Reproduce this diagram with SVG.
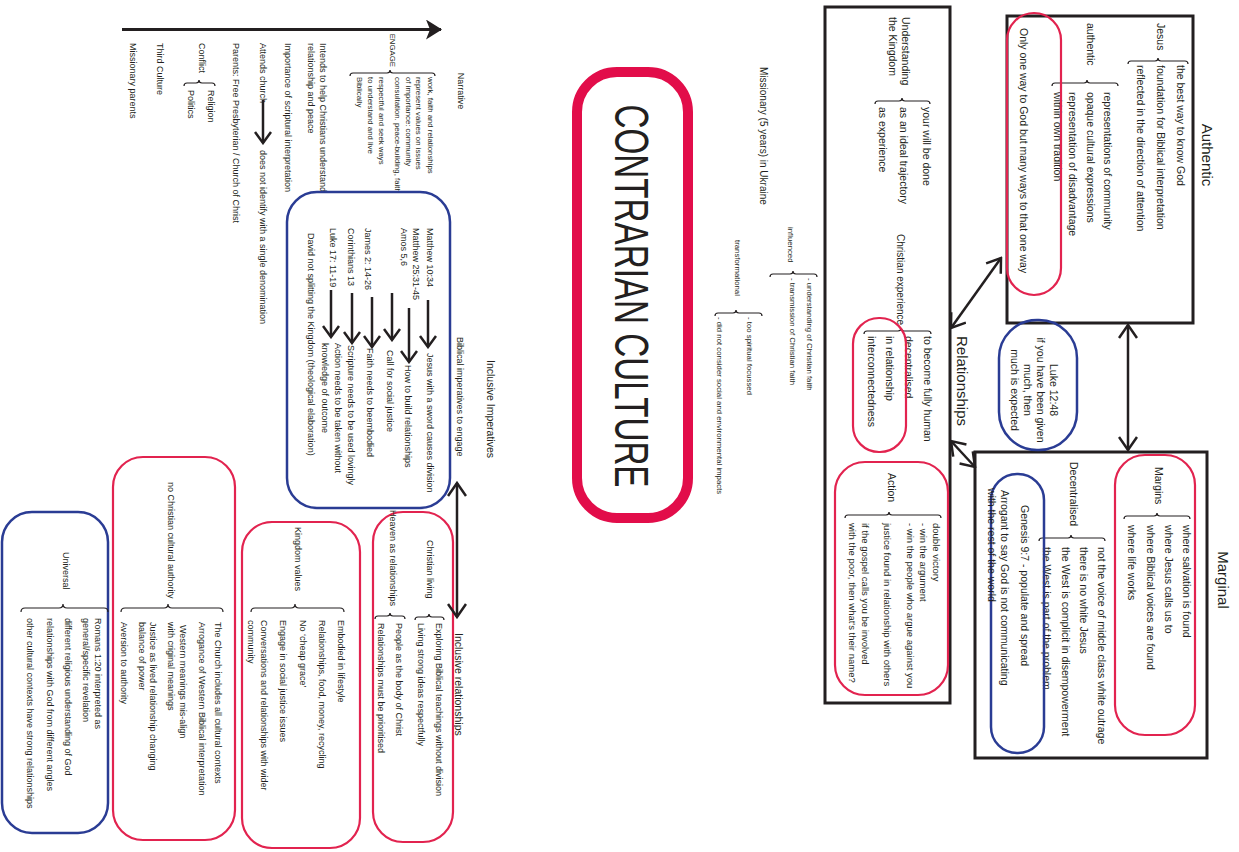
<svg xmlns="http://www.w3.org/2000/svg" width="1239" height="852" viewBox="0 0 1239 852">
<style>
text{font-family:"Liberation Sans",Arial,sans-serif;fill:#231f20}
.t{font-size:10.5px}
.a{font-size:10px}
.c{font-size:9.5px}
.s{font-size:9px}
.e{font-size:7.8px}
.xs{font-size:7.8px}
.h{font-size:15px}
.m{text-anchor:middle}
.end{text-anchor:end}
.box{fill:none;stroke:#231f20;stroke-width:3}
.red{fill:none;stroke:#e2234f;stroke-width:2.2}
.blue{fill:none;stroke:#2a3c94;stroke-width:2.5}
.br{fill:none;stroke:#231f20;stroke-width:1.2}
.ar{fill:none;stroke:#231f20;stroke-width:2.5}
</style>
<defs>
<marker id="ah" viewBox="0 0 16 20" refX="14" refY="10" markerWidth="16" markerHeight="20" markerUnits="userSpaceOnUse" orient="auto-start-reverse"><path d="M1,1 L14,10 L1,19" fill="none" stroke="#231f20" stroke-width="2.5"/></marker>
<marker id="as" viewBox="0 0 14 18" refX="12" refY="9" markerWidth="14" markerHeight="18" markerUnits="userSpaceOnUse" orient="auto-start-reverse"><path d="M1,1 L12,9 L1,17" fill="none" stroke="#231f20" stroke-width="2.5"/></marker>
<marker id="af" viewBox="0 0 16 20" refX="15" refY="10" markerWidth="16" markerHeight="20" markerUnits="userSpaceOnUse" orient="auto"><path d="M0,0 L16,10 L0,20 L4,10 z" fill="#231f20"/></marker>
</defs>
<rect x="0" y="0" width="1239" height="852" fill="#ffffff"/>
<g transform="translate(1239,0) rotate(90)">

<g id="authentic">
<text class="h m" x="155" y="37">Authentic</text>
<rect class="box" x="16" y="46" width="307" height="186"/>
<text class="t" x="23" y="82">Jesus</text>
<path class="br" d="M64,51 Q61,51 61,54 L61,78 Q61,81 58,81 Q61,81 61,84 L61,108 Q61,111 64,111"/>
<text class="t" x="65" y="62">the best way to know God</text>
<text class="t" x="65" y="82">foundation for Biblical interpretation</text>
<text class="t" x="65" y="102">reflected in the direction of attention</text>
<text class="t" x="23" y="152">authentic</text>
<path class="br" d="M86,121 Q83,121 83,124 L83,149 Q83,152 80,152 Q83,152 83,155 L83,184 Q83,187 86,187"/>
<text class="t" x="92" y="135">representations of community</text>
<text class="t" x="92" y="152">opaque cultural expressions</text>
<text class="t" x="92" y="170">representation of disadvantage</text>
<text class="t" x="92" y="185">within own tradition</text>
<rect class="red" x="13" y="178" width="282" height="54" rx="27"/>
<text class="t" x="28" y="219">Only one way to God but many ways to that one way</text>
</g>

<g id="marginal">
<text class="h m" x="580" y="21">Marginal</text>
<rect class="box" x="452" y="32" width="306" height="232"/>
<rect class="red" x="455" y="44" width="280" height="80" rx="30"/>
<text class="t" x="467" y="84">Margins</text>
<path class="br" d="M519,49 Q516,49 516,52 L516,79 Q516,82 513,82 Q516,82 516,85 L516,112 Q516,115 519,115"/>
<text class="t" x="525" y="56">where salvation is found</text>
<text class="t" x="525" y="74">where Jesus calls us to</text>
<text class="t" x="525" y="92">where Biblical voices are found</text>
<text class="t" x="525" y="111">where life works</text>
<text class="t" x="462" y="169">Decentralised</text>
<path class="br" d="M541,134 Q538,134 538,137 L538,165 Q538,168 535,168 Q538,168 538,171 L538,197 Q538,200 541,200"/>
<text class="t" x="547" y="141">not the voice of midcle class white outrage</text>
<text class="t" x="547" y="159">there is no white Jesus</text>
<text class="t" x="547" y="177">the West is complicit in disempowerment</text>
<text class="t" x="547" y="196">the West is part of the problem</text>
<rect class="blue" x="474" y="195" width="279" height="53" rx="26"/>
<text class="t" x="505" y="218">Genesis 9:7 - populate and spread</text>
<text class="t" x="490" y="238">Arrogant to say God is not communicating</text>
<text class="t" x="488" y="251">with the rest of the world</text>
</g>

<g id="luke">
<rect class="blue" x="320" y="162" width="130" height="78" rx="38"/>
<text class="t m" x="390" y="189">Luke 12:48</text>
<text class="t m" x="390" y="202">if you have been given</text>
<text class="t m" x="390" y="215">much, then</text>
<text class="t m" x="390" y="228">much is expected</text>
</g>

<g id="relationships">
<text class="h m" x="381" y="282">Relationships</text>
<rect class="box" x="7" y="289" width="696" height="125"/>
<text class="t" x="17" y="337">Understanding</text>
<text class="t" x="17" y="350">the Kingdom</text>
<path class="br" d="M104,309 Q101,309 101,312 L101,334 Q101,337 98,337 Q101,337 101,340 L101,361 Q101,364 104,364"/>
<text class="t" x="107" y="316">your will be done</text>
<text class="t" x="107" y="339">as an ideal trajectory</text>
<text class="t" x="107" y="360">as experience</text>
<text class="a" x="234" y="342">Christian experience</text>
<path class="br" d="M334,308 Q331,308 331,311 L331,335 Q331,338 328,338 Q331,338 331,341 L331,372 Q331,375 334,375"/>
<text class="t" x="336" y="315">to become fully human</text>
<text class="t" x="336" y="334">decentralised</text>
<text class="t" x="336" y="353">in relationship</text>
<text class="t" x="336" y="371">interconnectedness</text>
<rect class="red" x="318" y="333" width="134" height="53" rx="26"/>
<rect class="red" x="462" y="291" width="233" height="113" rx="30"/>
<text class="t" x="473" y="351">Action</text>
<path class="br" d="M518,298 Q515,298 515,301 L515,347 Q515,350 512,350 Q515,350 515,353 L515,391 Q515,394 518,394"/>
<text class="c" x="523" y="306">double victory</text>
<text class="c" x="523" y="319">- win the argument</text>
<text class="c" x="523" y="332">- win the people who argue against you</text>
<text class="c" x="523" y="355">justice found in relationship with others</text>
<text class="c" x="523" y="377">if the gospel calls you be involved</text>
<text class="c" x="523" y="390">with the poor, then what's their name?</text>
</g>

<g id="title">
<rect x="72" y="551" width="446" height="111" rx="40" fill="none" stroke="#e20d4a" stroke-width="10"/>
<text x="296" y="624" font-size="49" class="m" textLength="383" lengthAdjust="spacingAndGlyphs">CONTRARIAN CULTURE</text>
</g>

<g id="missionary">
<text class="a" x="67" y="479">Missionary (5 years) in Ukraine</text>
<text class="xs" x="227" y="451">influenced</text>
<path class="br" d="M277,422 Q274,422 274,425 L274,443 Q274,446 271,446 Q274,446 274,449 L274,466 Q274,469 277,469"/>
<text class="xs" x="278" y="432">- understanding of Christian faith</text>
<text class="xs" x="278" y="449">- transmission of Christian faith</text>
<text class="xs" x="240" y="504">transformational</text>
<path class="br" d="M316,477 Q313,477 313,480 L313,500 Q313,503 310,503 Q313,503 313,506 L313,521 Q313,524 316,524"/>
<text class="xs" x="317" y="492">- too spiritual focussed</text>
<text class="xs" x="317" y="522">- did not consider social and environmental impacts</text>
</g>

<g id="narrative">
<text class="s m" x="91" y="781">Narrative</text>
<text class="e end" x="67" y="849">ENGAGE</text>
<path class="br" d="M76,804 Q73,804 73,807 L73,846 Q73,849 70,849 Q73,849 73,852 L73,886 Q73,889 76,889"/>
<text class="e" x="77" y="811">work, faith and relationships</text>
<text class="e" x="77" y="823">represent values on issues</text>
<text class="e" x="77" y="833">of importance: community</text>
<text class="e" x="77" y="844">consultation. peace-building, faith</text>
<text class="e" x="77" y="860">respectful and seek ways</text>
<text class="e" x="77" y="871">to understand and live</text>
<text class="e" x="77" y="882">Biblically</text>
<text class="s" x="43" y="919">Intends to help Christians understand</text>
<text class="s" x="43" y="931">relationship and peace</text>
<text class="s" x="43" y="954">Importance of scriptural interpretation</text>
<text class="s" x="43" y="979">Attends church</text>
<text class="s" x="150" y="979">does not identify with a single denomination</text>
<text class="s" x="43" y="1006">Parents: Free Presbyterian / Church of Christ</text>
<text class="s" x="43" y="1040">Conflict</text>
<path class="br" d="M86,1024 Q83,1024 83,1027 L83,1037 Q83,1040 80,1040 Q83,1040 83,1043 L83,1052 Q83,1055 86,1055"/>
<text class="s" x="90" y="1031">Religion</text>
<text class="s" x="90" y="1051">Politics</text>
<text class="s" x="43" y="1082">Third Culture</text>
<text class="s" x="43" y="1109">Missionary parents</text>
</g>

<g id="biblical-imperatives">
<text class="t" x="360" y="752" font-size="11">Inclusive Imperatives</text>
<text class="s" x="337" y="782">Biblical imperatives to engage</text>
<rect class="blue" x="192" y="789" width="316" height="163" rx="30"/>
<text class="s" x="228" y="812">Matthew 10:34</text>
<text class="s" x="228" y="826">Matthew 25:31-45</text>
<text class="s" x="228" y="838">Amos 5,6</text>
<text class="s" x="228" y="874">James 2: 14-26</text>
<text class="s" x="228" y="891">Corinthians 13</text>
<text class="s" x="228" y="909">Luke 17: 11-19</text>
<text class="s" x="233" y="931">David not splitting the Kingdom (theological elaboration)</text>
<text class="s" x="353" y="812">Jesus with a sword causes division</text>
<text class="s" x="365" y="834">How to build relationships</text>
<text class="s" x="350" y="852">Call for social justice</text>
<text class="s" x="348" y="872">Faith needs to beembodied</text>
<text class="s" x="345" y="891">Scripture needs to be used lovingly</text>
<text class="s" x="343" y="904">Action needs to be taken without</text>
<text class="s" x="343" y="917">knowledge of outcome</text>
</g>

<g id="inclusive-relationships">
<text class="t" x="633" y="784" font-size="11">Inclusive relationships</text>
<rect class="red" x="512" y="786" width="330" height="80" rx="30"/>
<text class="s" x="540" y="812">Christian living</text>
<path class="br" d="M620,795 Q617,795 617,798 L617,807 Q617,810 614,810 Q617,810 617,813 L617,821 Q617,824 620,824"/>
<text class="s" x="623" y="803">Exploring Biblical teachings without division</text>
<text class="s" x="623" y="821">Living strong ideas respectfully</text>
<text class="s" x="510" y="849">Heaven as relationships</text>
<path class="br" d="M619,834 Q616,834 616,837 L616,846 Q616,849 613,849 Q616,849 616,852 L616,861 Q616,864 619,864"/>
<text class="s" x="623" y="843">People as the body of Christ</text>
<text class="s" x="623" y="861">Relationships must be prioritised</text>
</g>

<g id="kingdom-values">
<rect class="red" x="522" y="879" width="326" height="118" rx="30"/>
<text class="s" x="527" y="944">Kingdom values</text>
<path class="br" d="M612,895 Q608,895 608,899 L608,940 Q608,944 604,944 Q608,944 608,948 L608,984 Q608,988 612,988"/>
<text class="s" x="620" y="901">Embodied in lifestyle</text>
<text class="s" x="620" y="920">Relationships, food, money, recycling</text>
<text class="s" x="620" y="939">No ‘cheap grace’</text>
<text class="s" x="620" y="959">Engage in social justice issues</text>
<text class="s" x="620" y="978">Conversations and relationships with wider</text>
<text class="s" x="620" y="991">community</text>
</g>

<g id="cultural-authority">
<rect class="red" x="457" y="1004" width="383" height="122" rx="30"/>
<text class="s" x="482" y="1071">no Christian cultural authority</text>
<path class="br" d="M612,1016 Q608,1016 608,1020 L608,1067 Q608,1071 604,1071 Q608,1071 608,1075 L608,1114 Q608,1118 612,1118"/>
<text class="s" x="622" y="1024">The Church includes all cultural contexts</text>
<text class="s" x="622" y="1040">Arrogance of Western Biblical interpretation</text>
<text class="s" x="625" y="1059">Western meanings mis-align</text>
<text class="s" x="622" y="1071">with criginal meanings</text>
<text class="s" x="622" y="1089">Justice as lived relationship changing</text>
<text class="s" x="622" y="1100">balance of power</text>
<text class="s" x="622" y="1118">Aversion to authority</text>
</g>

<g id="universal">
<rect class="blue" x="512" y="1131" width="321" height="106" rx="30"/>
<text class="s" x="552" y="1176">Universal</text>
<path class="br" d="M612,1131 Q608,1131 608,1135 L608,1172 Q608,1176 604,1176 Q608,1176 608,1180 L608,1214 Q608,1218 612,1218"/>
<text class="s" x="618" y="1144">Romans 1:20 interpreted as</text>
<text class="s" x="618" y="1156">general/specific revelation</text>
<text class="s" x="618" y="1174">different religious understanding of God</text>
<text class="s" x="618" y="1192">relationships with God from different angles</text>
<text class="s" x="618" y="1212">other cultural contexts have strong relationships</text>
</g>

<g id="connectors">
<line class="ar" x1="325" y1="111" x2="450" y2="111" marker-start="url(#ah)" marker-end="url(#ah)"/>
<line class="ar" x1="328" y1="288" x2="258" y2="238" marker-start="url(#ah)" marker-end="url(#ah)"/>
<line class="ar" x1="441" y1="288" x2="467" y2="264" marker-start="url(#ah)" marker-end="url(#ah)"/>
<line class="ar" x1="483" y1="782" x2="617" y2="782" marker-start="url(#ah)" marker-end="url(#ah)"/>
<line x1="29.5" y1="1117" x2="29.5" y2="798" stroke="#231f20" stroke-width="3" marker-end="url(#af)"/>
<line class="ar" x1="100" y1="976" x2="143" y2="976" marker-end="url(#as)"/>
<line class="ar" x1="300" y1="811" x2="347" y2="811" marker-end="url(#as)"/>
<line class="ar" x1="308" y1="830" x2="362" y2="830" marker-end="url(#as)"/>
<line class="ar" x1="293" y1="847" x2="340" y2="847" marker-end="url(#as)"/>
<line class="ar" x1="297" y1="867" x2="347" y2="867" marker-end="url(#as)"/>
<line class="ar" x1="293" y1="887" x2="343" y2="887" marker-end="url(#as)"/>
<line class="ar" x1="290" y1="908" x2="337" y2="908" marker-end="url(#as)"/>
</g>
</g>
</svg>
